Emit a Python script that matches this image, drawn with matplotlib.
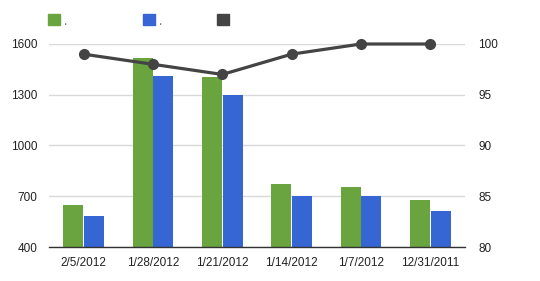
import matplotlib
matplotlib.use("Agg")
import matplotlib.pyplot as plt
import numpy as np
from matplotlib.patches import Patch

plt.rcParams['font.family'] = ['Liberation Sans', 'DejaVu Sans']

categories = ["2/5/2012", "1/28/2012", "1/21/2012", "1/14/2012", "1/7/2012", "12/31/2011"]
green_vals = [650, 1520, 1405, 770, 755, 680]
blue_vals = [585, 1410, 1300, 700, 700, 615]
line_vals = [99, 98, 97, 99, 100, 100]
left_ticks = [400, 700, 1000, 1300, 1600]
right_ticks = [80, 85, 90, 95, 100]
legend_labels = ["\u02cc", "\u02cc", " "]

GREEN = "#6aa43f"
BLUE = "#3665d4"
DARK = "#444444"

fig = plt.figure(figsize=(5.40, 2.81), dpi=100)
ax = fig.add_axes([49/540, 1 - 247/281, 416/540, 203/281])
x = np.arange(len(categories))
w = 0.29
ax.bar(x - w/2 - 0.005, green_vals, width=w, color=GREEN, zorder=2)
ax.bar(x + w/2 + 0.005, blue_vals, width=w, color=BLUE, zorder=2)
ax.set_xlim(-0.5, len(categories) - 0.5)
ax.set_ylim(400, 1600)
ax.set_yticks(left_ticks)
ax.set_xticks(x)
ax.set_xticklabels(categories)
ax.grid(axis='y', color='#d9d9d9', linewidth=1, zorder=0)
for s in ['top', 'right', 'left']:
    ax.spines[s].set_visible(False)
ax.spines['bottom'].set_color('#333333')
ax.spines['bottom'].set_linewidth(1)
ax.tick_params(axis='both', length=0, labelsize=8.5, colors='#222222')
ax.tick_params(axis='y', pad=8.5)
ax.tick_params(axis='x', pad=7)

ax2 = ax.twinx()
ax2.plot(x, line_vals, color=DARK, linewidth=2.3, marker='o', markersize=7,
         zorder=3, clip_on=False)
ax2.set_ylim(80, 100)
ax2.set_yticks(right_ticks)
for s in ['top', 'right', 'left', 'bottom']:
    ax2.spines[s].set_visible(False)
ax2.tick_params(axis='y', length=0, labelsize=8.5, colors='#222222', pad=9.5)

colors = [GREEN, BLUE, DARK]
legend_x = [48, 143, 217]
for c, lbl, lx in zip(colors, legend_labels, legend_x):
    fig.legend([Patch(color=c)], [lbl], loc='upper left',
               bbox_to_anchor=(lx/540, 1 - 14/281), frameon=False, fontsize=8,
               handlelength=1.1, handleheight=1.1, handletextpad=0.3,
               borderpad=0, borderaxespad=0)

fig.savefig("out.png", dpi=100, facecolor='white')
